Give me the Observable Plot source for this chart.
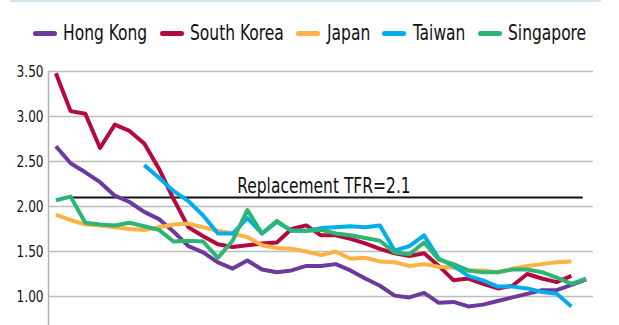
<!DOCTYPE html>
<html>
<head>
<meta charset="utf-8">
<script src="https://cdn.jsdelivr.net/npm/d3@7"></script>
<script src="https://cdn.jsdelivr.net/npm/@observablehq/plot@0.6"></script>
<style>
  html, body { margin: 0; padding: 0; background: #fff; }
  #wrap { position: relative; width: 619px; height: 325px; overflow: hidden;
          font-family: "DejaVu Sans Condensed", "DejaVu Sans", sans-serif; }
  #topline { position: absolute; left: 10px; top: 0; width: 591px; height: 2px; background: #d3e4ee; }
  #legend { position: absolute; left: 0; top: 21px; width: 619px; display: flex; justify-content: center;
            align-items: center; font-size: 20.5px; color: #111; }
  .item { display: flex; align-items: center; margin: 0 6.2px; }
  .sw { width: 24px; height: 5px; border-radius: 3px; margin-right: 6.5px; flex: none; }
  .tx { display: inline-block; white-space: nowrap; transform-origin: left center; }
  #chart { position: absolute; left: 0; top: 60px; }
</style>
</head>
<body>
<div id="wrap">
  <div id="topline"></div>
  <div id="legend"></div>
  <div id="chart"></div>
</div>
<script>
// ---- data ----
const countries = ["Hong Kong", "South Korea", "Japan", "Taiwan", "Singapore"];
const colors = ["#6b3a9b", "#b5083f", "#fdb246", "#00aeef", "#2db673"];
const yTicks = [1.0, 1.5, 2.0, 2.5, 3.0, 3.5];

const hongKongYears = d3.range(1975, 2012);
const hongKong = [2.67, 2.48, 2.38, 2.27, 2.12, 2.05, 1.94, 1.86, 1.72, 1.56,
                  1.49, 1.38, 1.31, 1.40, 1.30, 1.27, 1.29, 1.34, 1.34, 1.36,
                  1.29, 1.20, 1.12, 1.01, 0.99, 1.04, 0.93, 0.94, 0.89, 0.91,
                  0.95, 0.99, 1.03, 1.07, 1.07, 1.13, 1.19];

const southKoreaYears = d3.range(1975, 2011);
const southKorea = [3.48, 3.06, 3.03, 2.65, 2.91, 2.84, 2.70, 2.42, 2.08, 1.77,
                    1.67, 1.58, 1.55, 1.57, 1.59, 1.60, 1.75, 1.79, 1.68, 1.68,
                    1.64, 1.59, 1.53, 1.48, 1.45, 1.48, 1.34, 1.18, 1.20, 1.14,
                    1.09, 1.12, 1.25, 1.20, 1.16, 1.23];

const japanYears = d3.range(1975, 2011);
const japan = [1.91, 1.85, 1.80, 1.79, 1.77, 1.75, 1.74, 1.77, 1.80, 1.81,
               1.77, 1.73, 1.70, 1.66, 1.57, 1.54, 1.53, 1.50, 1.46, 1.50,
               1.42, 1.43, 1.39, 1.38, 1.34, 1.36, 1.33, 1.32, 1.29, 1.29,
               1.27, 1.31, 1.34, 1.36, 1.38, 1.39];

const taiwanYears = d3.range(1981, 2011);
const taiwan = [2.46, 2.32, 2.17, 2.06, 1.90, 1.70, 1.70, 1.87, 1.70, 1.83,
                1.73, 1.73, 1.76, 1.77, 1.78, 1.77, 1.79, 1.51, 1.56, 1.68,
                1.42, 1.34, 1.23, 1.18, 1.11, 1.11, 1.09, 1.05, 1.03, 0.89];

const singaporeYears = d3.range(1975, 2012);
const singapore = [2.07, 2.11, 1.82, 1.80, 1.79, 1.82, 1.78, 1.74, 1.61, 1.62,
                   1.61, 1.43, 1.62, 1.96, 1.70, 1.84, 1.73, 1.73, 1.74, 1.70,
                   1.68, 1.65, 1.62, 1.49, 1.47, 1.60, 1.41, 1.36, 1.29, 1.27,
                   1.27, 1.30, 1.30, 1.27, 1.21, 1.14, 1.20];

const replacement = 2.1;
const replacementLabel = "Replacement TFR=2.1";
const replacementSpan = [1975.6, 2010.8];

// ---- build table ----
const seriesYears = [hongKongYears, southKoreaYears, japanYears, taiwanYears, singaporeYears];
const seriesValues = [hongKong, southKorea, japan, taiwan, singapore];
const data = countries.flatMap((c, i) =>
  seriesValues[i].map((v, j) => ({country: c, year: seriesYears[i][j], tfr: v})));

const condense = 0.84; // narrow the available condensed font further

// ---- legend ----
const legend = document.getElementById("legend");
countries.forEach((c, i) => {
  const it = document.createElement("div");
  it.className = "item";
  const sw = document.createElement("span");
  sw.className = "sw";
  sw.style.background = colors[i];
  const tx = document.createElement("span");
  tx.className = "tx";
  tx.textContent = c;
  it.appendChild(sw); it.appendChild(tx);
  legend.appendChild(it);
});
legend.querySelectorAll(".tx").forEach(tx => {
  const w = tx.getBoundingClientRect().width;
  tx.style.width = (w * condense) + "px";
  tx.style.transform = `scaleX(${condense})`;
});

// ---- chart ----
const xDomain = [1974.5, 2011.5];
const yDomain = [0.678, 3.5];
const chart = Plot.plot({
  width: 619,
  height: 265,
  marginLeft: 48,
  marginRight: 26,
  marginTop: 11,
  marginBottom: 0,
  style: {fontFamily: '"DejaVu Sans Condensed", "DejaVu Sans", sans-serif', color: "#111", background: "transparent"},
  x: {domain: xDomain, axis: null},
  y: {domain: yDomain, axis: null},
  color: {domain: countries, range: colors},
  marks: [
    Plot.ruleY(yTicks, {x1: xDomain[0], x2: xDomain[1], stroke: "#bdbdbd", strokeWidth: 1.5}),
    Plot.ruleX([xDomain[0]], {y1: yDomain[1], y2: yDomain[0], stroke: "#b3b3b3", strokeWidth: 1.5}),
    Plot.axisY(yTicks, {tickSize: 0, tickPadding: 5, tickFormat: d3.format(".2f"), fontSize: 16, label: null}),
    Plot.ruleY([replacement], {x1: replacementSpan[0], x2: replacementSpan[1], stroke: "#111", strokeWidth: 2}),
    Plot.text([replacement], {x: (replacementSpan[0] + replacementSpan[1]) / 2, y: d => d, text: () => replacementLabel,
      lineAnchor: "bottom", dy: -5, fontSize: 20.5, fill: "#111"}),
    Plot.line(data, {x: "year", y: "tfr", z: "country", stroke: "country", strokeWidth: 4,
      strokeLinejoin: "round", strokeLinecap: "butt"})
  ]
});
document.getElementById("chart").appendChild(chart);
chart.querySelectorAll("text").forEach(t => {
  const w = t.getComputedTextLength();
  t.setAttribute("textLength", (w * condense).toFixed(1));
  t.setAttribute("lengthAdjust", "spacingAndGlyphs");
});
</script>
</body>
</html>
